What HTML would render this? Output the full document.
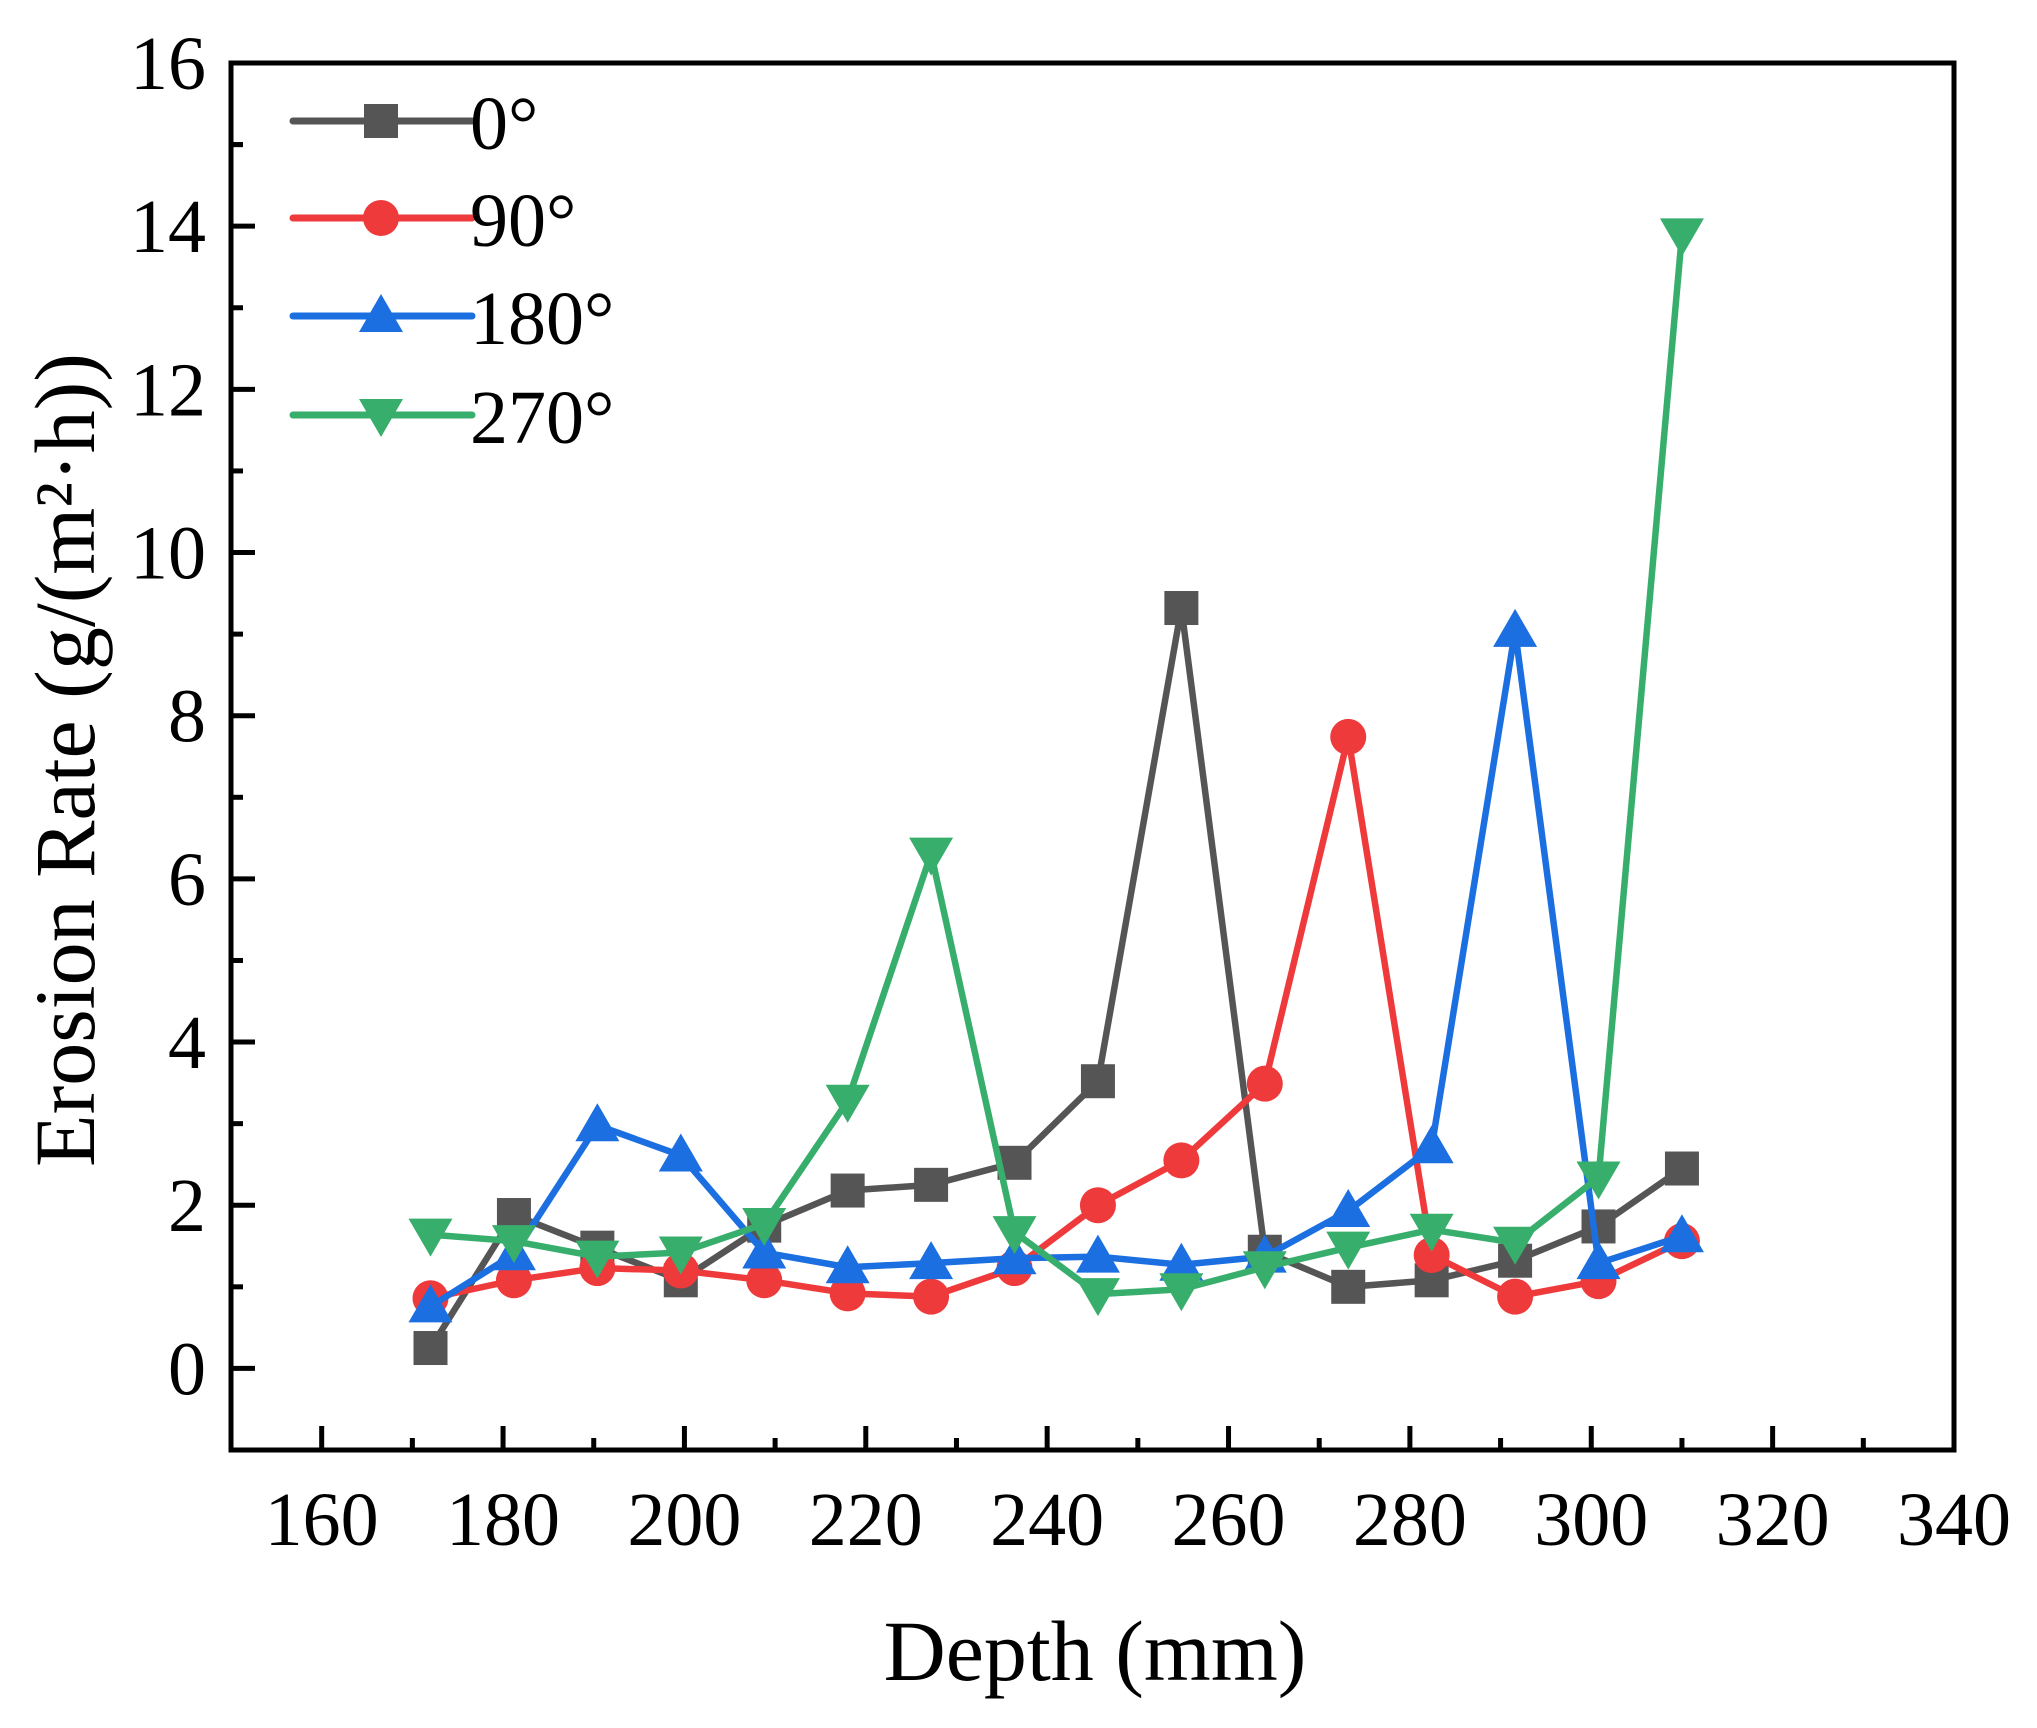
<!DOCTYPE html>
<html><head><meta charset="utf-8"><style>
html,body{margin:0;padding:0;background:#fff}
svg{display:block}
text{font-family:"Liberation Serif","Times New Roman",serif;fill:#000}
</style></head><body>
<svg id="chart" width="2037" height="1728" viewBox="0 0 2037 1728" xmlns="http://www.w3.org/2000/svg" font-family="Liberation Serif, serif">
<g id="plot"></g>
</svg>
<script>
const depths = [172, 181.2, 190.4, 199.6, 208.8, 218, 227.2, 236.4, 245.6, 254.8, 264, 273.2, 282.4, 291.6, 300.8, 310];
const series0 = [0.25, 1.88, 1.48, 1.08, 1.75, 2.18, 2.25, 2.52, 3.52, 9.32, 1.43, 1.0, 1.08, 1.32, 1.74, 2.45];
const series90 = [0.86, 1.08, 1.23, 1.2, 1.08, 0.92, 0.88, 1.23, 2.0, 2.55, 3.49, 7.74, 1.39, 0.88, 1.07, 1.56];
const series180 = [0.76, 1.4, 2.98, 2.61, 1.42, 1.24, 1.29, 1.35, 1.37, 1.27, 1.37, 1.93, 2.71, 9.04, 1.29, 1.62];
const series270 = [1.64, 1.56, 1.37, 1.42, 1.77, 3.28, 6.31, 1.67, 0.91, 0.97, 1.24, 1.48, 1.70, 1.54, 2.34, 13.9];
const xTicks = [160, 180, 200, 220, 240, 260, 280, 300, 320, 340];
const yTicks = [0, 2, 4, 6, 8, 10, 12, 14, 16];
const seriesNames = ["0°", "90°", "180°", "270°"];

const L=231,R=1954,T=63,B=1450;
const xMin=150,xMax=340,yMin=-1,yMax=16;
function sx(v){return L+(v-xMin)/(xMax-xMin)*(R-L);}
function sy(v){return B-(v-yMin)/(yMax-yMin)*(B-T);}
const NS="http://www.w3.org/2000/svg";
const g=document.getElementById('plot');
function el(tag,attrs,parent){const e=document.createElementNS(NS,tag);for(const k in attrs)e.setAttribute(k,attrs[k]);(parent||g).appendChild(e);return e;}
const FF="Liberation Serif, Times New Roman, serif";

const frame=el('rect',{x:L,y:T,width:R-L,height:B-T,fill:'none',stroke:'#000','stroke-width':5});



for(let i=0;i<xTicks.length;i++){
  const v=xTicks[i];const x=sx(v);
  const t=el('line',{x1:x,x2:x,y1:B,y2:B-24,stroke:'#000','stroke-width':5});
  
  
  if(i<xTicks.length-1){const xm=sx(v+10);
    const m=el('line',{x1:xm,x2:xm,y1:B,y2:B-12,stroke:'#000','stroke-width':5});
    
    }
  const lb=el('text',{x:x,y:1545,'font-size':76,'text-anchor':'middle','font-family':FF});
  lb.textContent=v;
  
  
}
{const m=el('line',{x1:sx(150),x2:sx(150),y1:B,y2:B-12,stroke:'#000','stroke-width':5});}
for(let i=0;i<yTicks.length;i++){
  const v=yTicks[i];const y=sy(v);
  const t=el('line',{x1:L,x2:L+24,y1:y,y2:y,stroke:'#000','stroke-width':5});
  
  
  const m=el('line',{x1:L,x2:L+12,y1:sy(v-1),y2:sy(v-1),stroke:'#000','stroke-width':5});
  
  
  const lb=el('text',{x:206,y:y+26,'font-size':76,'text-anchor':'end','font-family':FF});
  lb.textContent=v;
  
  
}
{const m=el('line',{x1:L,x2:L+12,y1:sy(15),y2:sy(15),stroke:'#000','stroke-width':5});}

const xt=el('text',{x:1095,y:1680,'font-size':86,'text-anchor':'middle','font-family':FF});
xt.textContent='Depth (mm)';


const yt=el('text',{x:0,y:0,'font-size':86,'text-anchor':'middle','font-family':FF,transform:'translate(94,760) rotate(-90)'});
yt.textContent='Erosion Rate (g/(m²·h))';



const colors=['#555555','#ef3a3c','#1b6fe0','#38ae6c'];
const shapes=['square','circle','up','down'];
function marker(shape,x,y,c,parent){
  if(shape==='square')return el('rect',{x:x-17,y:y-17,width:34,height:34,fill:c},parent);
  if(shape==='circle')return el('circle',{cx:x,cy:y,r:18,fill:c},parent);
  if(shape==='up')return el('polygon',{points:`${x},${y-22} ${x+22},${y+16} ${x-22},${y+16}`,fill:c},parent);
  return el('polygon',{points:`${x},${y+22} ${x+22},${y-16} ${x-22},${y-16}`,fill:c},parent);
}
const allSeries=[series0,series90,series180,series270];
allSeries.forEach((s,si)=>{
  const sg=el('g',{});
  
  
  const pts=s.map((v,i)=>sx(depths[i])+','+sy(v)).join(' ');
  const pl=el('polyline',{points:pts,fill:'none',stroke:colors[si],'stroke-width':6.5,'stroke-linejoin':'round'},sg);
  
  
  s.forEach((v,i)=>{const m=marker(shapes[si],sx(depths[i]),sy(v),colors[si],sg);
    
    });
});

const lg=el('g',{});


const ly=[121,218,316,415];
seriesNames.forEach((n,i)=>{
  const eg=el('g',{},lg);
  
  
  el('line',{x1:293,x2:472,y1:ly[i],y2:ly[i],stroke:colors[i],'stroke-width':7,'stroke-linecap':'round'},eg);
  marker(shapes[i],381,ly[i],colors[i],eg);
  const t=el('text',{x:470,y:ly[i]+28,'font-size':76,'font-family':FF},eg);
  t.textContent=n;
});
</script>
</body></html>
